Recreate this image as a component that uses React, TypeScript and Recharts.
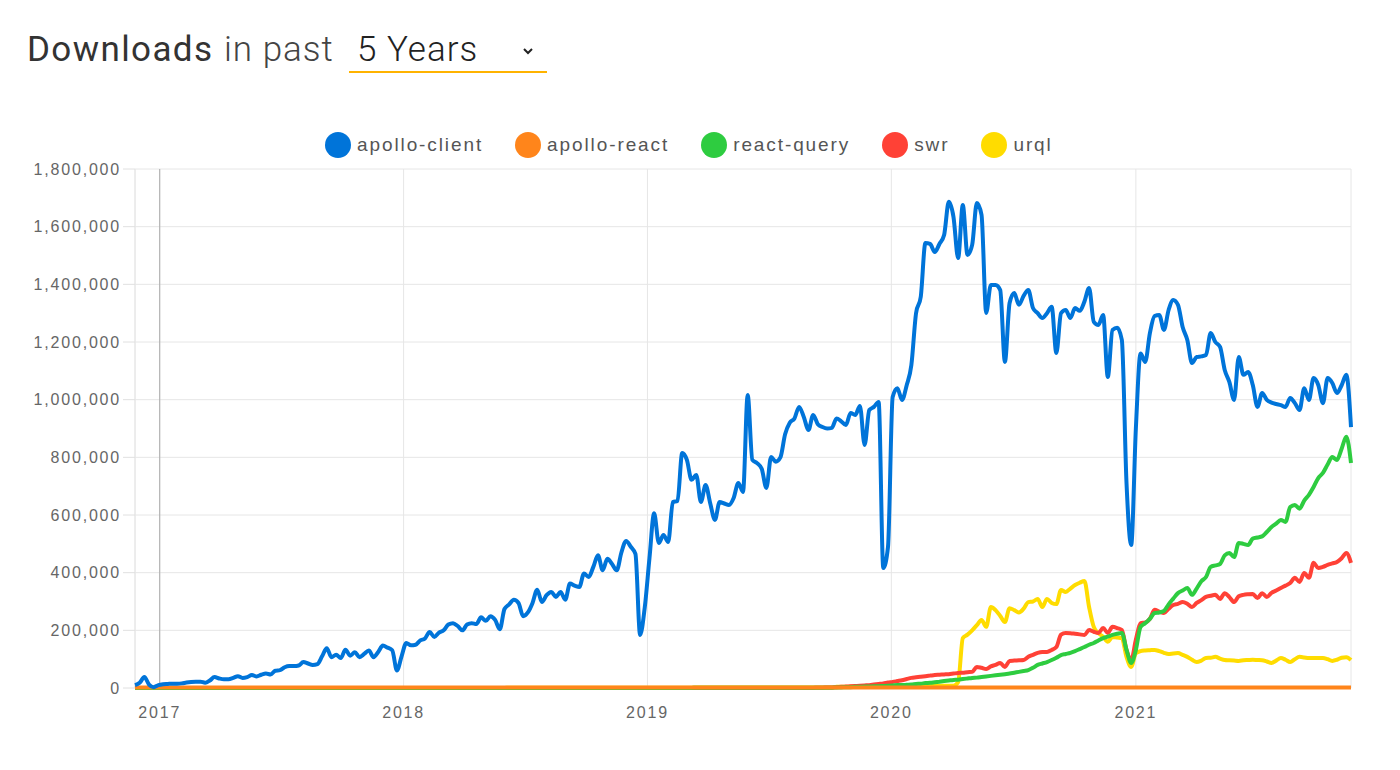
import React from 'react'
import { LineChart, Line, XAxis, YAxis, CartesianGrid, ReferenceLine, Legend } from 'recharts'

// weekly downloads in thousands, first week starts 2016-11-25
const START = Date.UTC(2016, 10, 25)
const WEEK = 7 * 24 * 3600 * 1000
const YEARS = [2017, 2018, 2019, 2020, 2021]
const Y_TICKS = [0, 200000, 400000, 600000, 800000, 1000000, 1200000, 1400000, 1600000, 1800000]

const apolloClient = [
  10, 18, 38, 12, 3, 10, 13, 14, 15, 15, 16, 19, 21, 22, 22, 18, 26, 38, 33, 30,
  30, 35, 41, 35, 38, 45, 40, 46, 50, 47, 60, 62, 72, 76, 76, 78, 90, 85, 80, 83,
  110, 138, 107, 115, 104, 133, 112, 124, 107, 118, 130, 107, 125, 147, 140, 131, 61, 110, 156, 148,
  150, 165, 172, 194, 177, 192, 200, 220, 225, 215, 200, 220, 225, 222, 245, 233, 249, 236, 204, 274,
  290, 306, 295, 249, 262, 295, 341, 298, 322, 333, 316, 333, 306, 362, 355, 350, 397, 385, 420, 460,
  408, 448, 430, 408, 470, 510, 490, 465, 184, 280, 450, 606, 503, 531, 506, 645, 649, 815, 791, 722,
  739, 645, 704, 640, 583, 645, 640, 635, 659, 711, 680, 1016, 791, 780, 760, 694, 801, 785, 800, 880,
  920, 935, 975, 940, 895, 947, 915, 905, 900, 902, 935, 925, 912, 954, 947, 978, 843, 964, 975, 992,
  416, 489, 1009, 1040, 999, 1050, 1120, 1300, 1356, 1543, 1540, 1512, 1540, 1571, 1686, 1634, 1491, 1675, 1502, 1537,
  1682, 1641, 1301, 1398, 1398, 1380, 1131, 1335, 1370, 1329, 1360, 1380, 1318, 1300, 1283, 1300, 1322, 1162, 1300, 1311,
  1283, 1318, 1308, 1340, 1387, 1270, 1259, 1294, 1079, 1242, 1249, 1207, 711, 496, 900, 1160, 1131, 1231, 1290, 1294,
  1242, 1311, 1346, 1329, 1252, 1207, 1127, 1148, 1150, 1155, 1231, 1200, 1183, 1103, 1061, 999, 1148, 1086, 1096, 1051,
  975, 1023, 999, 990, 985, 981, 975, 1006, 988, 964, 1040, 999, 1075, 1051, 988, 1075, 1058, 1023, 1050, 1086,
  905,
]

const apolloReact = [
  2, 2, 2, 2, 2, 2, 2, 2, 2, 2, 2, 2, 2, 2, 2, 2, 2, 2, 2, 2,
  2, 2, 2, 2, 2, 2, 2, 2, 2, 2, 2, 2, 2, 2, 2, 2, 2, 2, 2, 2,
  2, 2, 2, 2, 2, 2, 2, 2, 2, 2, 2, 2, 2, 2, 2, 2, 2, 2, 2, 2,
  2, 2, 2, 2, 2, 2, 2, 2, 2, 2, 2, 2, 2, 2, 2, 2, 2, 2, 2, 2,
  2, 2, 2, 2, 2, 2, 2, 2, 2, 2, 2, 2, 2, 2, 2, 2, 2, 2, 2, 2,
  2, 2, 2, 2, 2, 2, 2, 2, 2, 2, 2, 2, 2, 2, 2, 2, 2, 2, 2, 2,
  2, 2, 2, 2, 2, 2, 2, 2, 2, 2, 2, 2, 2, 2, 2, 2, 2, 2, 2, 2,
  2, 2, 2, 2, 2, 2, 2, 2, 2, 2, 2, 2, 2, 2, 2, 2, 2, 2, 2, 2,
  2, 2, 2, 2, 2, 2, 2, 2, 2, 2, 2, 2, 2, 2, 2, 2, 2, 2, 2, 2,
  2, 2, 2, 2, 2, 2, 2, 2, 2, 2, 2, 2, 2, 2, 2, 2, 2, 2, 2, 2,
  2, 2, 2, 2, 2, 2, 2, 2, 2, 2, 2, 2, 2, 2, 2, 2, 2, 2, 2, 2,
  2, 2, 2, 2, 2, 2, 2, 2, 2, 2, 2, 2, 2, 2, 2, 2, 2, 2, 2, 2,
  2, 2, 2, 2, 2, 2, 2, 2, 2, 2, 2, 2, 2, 2, 2, 2, 2, 2, 2, 2,
  2,
]

const reactQuery = [
  0, 0, 0, 0, 0, 0, 0, 0, 0, 0, 0, 0, 0, 0, 0, 0, 0, 0, 0, 0,
  0, 0, 0, 0, 0, 0, 0, 0, 0, 0, 0, 0, 0, 0, 0, 0, 0, 0, 0, 0,
  0, 0, 0, 0, 0, 0, 0, 0, 0, 0, 0, 0, 0, 0, 0, 0, 0, 0, 0, 0,
  0, 0, 0, 0, 0, 0, 0, 0, 0, 0, 0, 0, 0, 0, 0, 0, 0, 0, 0, 0,
  0, 0, 0, 0, 0, 0, 0, 0, 0, 0, 0, 0, 0, 0, 0, 0, 0, 0, 0, 0,
  0, 0, 0, 0, 0, 0, 0, 0, 0, 0, 0, 0, 0, 0, 0, 0, 0, 0, 0, 0,
  1, 1, 1, 1, 1, 1, 1, 1, 1, 1, 1, 1, 1, 1, 1, 1, 1, 1, 1, 1,
  1, 1, 1, 1, 1, 1, 1, 1, 1, 1, 2, 2, 3, 3, 4, 4, 5, 5, 6, 6,
  7, 8, 9, 10, 10, 11, 12, 14, 15, 17, 18, 20, 22, 24, 26, 28, 29, 31, 33, 35,
  36, 38, 40, 42, 44, 46, 48, 50, 53, 56, 59, 62, 70, 80, 85, 90, 97, 105, 114, 118,
  122, 128, 135, 142, 150, 156, 165, 173, 178, 184, 188, 191, 132, 87, 132, 212, 225, 240, 260, 262,
  267, 290, 310, 329, 338, 347, 323, 345, 370, 385, 420, 425, 430, 460, 468, 454, 503, 500, 496, 518,
  522, 526, 541, 558, 570, 583, 576, 628, 635, 622, 650, 670, 697, 728, 746, 775, 801, 791, 830, 871,
  780,
]

const swr = [
  0, 0, 0, 0, 0, 0, 0, 0, 0, 0, 0, 0, 0, 0, 0, 0, 0, 0, 0, 0,
  0, 0, 0, 0, 0, 0, 0, 0, 0, 0, 0, 0, 0, 0, 0, 0, 0, 0, 0, 0,
  0, 0, 0, 0, 0, 0, 0, 0, 0, 0, 0, 0, 0, 0, 0, 0, 0, 0, 0, 0,
  0, 0, 0, 0, 0, 0, 0, 0, 0, 0, 0, 0, 0, 0, 0, 0, 0, 0, 0, 0,
  0, 0, 0, 0, 0, 0, 0, 0, 0, 0, 0, 0, 0, 0, 0, 0, 0, 0, 0, 0,
  0, 0, 0, 0, 0, 0, 0, 0, 0, 0, 0, 0, 0, 0, 0, 0, 0, 0, 0, 0,
  0, 0, 0, 0, 0, 0, 0, 0, 0, 0, 0, 0, 0, 0, 0, 0, 0, 0, 0, 0,
  0, 0, 0, 0, 0, 0, 1, 1, 2, 2, 3, 4, 5, 6, 7, 8, 9, 10, 12, 14,
  16, 19, 21, 24, 27, 31, 35, 37, 39, 41, 43, 45, 46, 47, 48, 50, 52, 53, 55, 56,
  73, 70, 66, 75, 80, 87, 73, 94, 95, 96, 97, 108, 115, 122, 125, 125, 132, 142, 185, 191,
  190, 188, 186, 184, 201, 195, 191, 208, 191, 212, 208, 201, 132, 97, 167, 225, 227, 240, 271, 265,
  260, 275, 288, 292, 298, 292, 281, 295, 305, 316, 320, 323, 309, 329, 315, 298, 318, 323, 325, 326,
  312, 329, 316, 330, 338, 347, 355, 364, 382, 368, 399, 382, 434, 416, 420, 427, 432, 437, 450, 468,
  434,
]

const urql = [
  0, 0, 0, 0, 0, 0, 0, 0, 0, 0, 0, 0, 0, 0, 0, 0, 0, 0, 0, 0,
  0, 0, 0, 0, 0, 0, 0, 0, 0, 0, 0, 0, 0, 0, 0, 0, 0, 0, 0, 0,
  0, 0, 0, 0, 0, 0, 0, 0, 0, 0, 0, 0, 0, 0, 0, 0, 0, 0, 0, 0,
  0, 0, 0, 0, 0, 0, 0, 0, 0, 0, 0, 0, 0, 0, 0, 0, 0, 0, 0, 0,
  1, 1, 1, 1, 1, 1, 1, 1, 1, 1, 1, 1, 1, 1, 1, 1, 1, 1, 1, 1,
  1, 1, 1, 1, 1, 1, 1, 1, 1, 1, 1, 1, 1, 1, 1, 1, 1, 1, 1, 1,
  2, 2, 2, 2, 2, 2, 2, 2, 2, 2, 2, 2, 2, 2, 2, 2, 2, 2, 2, 2,
  2, 2, 2, 2, 2, 2, 2, 2, 2, 2, 4, 4, 4, 5, 5, 5, 5, 5, 5, 5,
  5, 6, 6, 6, 6, 6, 6, 6, 7, 7, 7, 7, 7, 8, 8, 8, 20, 173, 185, 200,
  218, 236, 212, 281, 270, 250, 229, 277, 270, 262, 275, 298, 300, 309, 281, 309, 295, 291, 340, 333,
  345, 357, 365, 371, 281, 212, 190, 178, 160, 177, 175, 173, 108, 73, 121, 128, 130, 131, 132, 128,
  122, 118, 120, 121, 115, 108, 98, 90, 95, 104, 105, 108, 102, 97, 96, 95, 94, 96, 97, 98,
  97, 96, 92, 87, 95, 104, 98, 90, 100, 108, 106, 104, 104, 104, 104, 100, 94, 98, 105, 107,
  97,
]

const SERIES = [
  { key: 'apollo-client', color: '#0074D9', values: apolloClient },
  { key: 'apollo-react', color: '#FF851B', values: apolloReact },
  { key: 'react-query', color: '#2ECC40', values: reactQuery },
  { key: 'swr', color: '#FF4136', values: swr },
  { key: 'urql', color: '#FFDC00', values: urql },
]

const data = apolloClient.map((_, i) => {
  const row: Record<string, number> = { t: START + i * WEEK }
  SERIES.forEach(s => { row[s.key] = s.values[i] * 1000 })
  return row
})

const yearTs = (y: number) => Date.UTC(y, 0, 1)
const LABEL_FONT = '"Liberation Sans", Arial, sans-serif'

function LegendRow() {
  return (
    <div style={{ display: 'flex', alignItems: 'center', height: 30 }}>
      {SERIES.map(s => (
        <div key={s.key} style={{ display: 'flex', alignItems: 'center', marginRight: 32 }}>
          <span style={{ width: 26, height: 26, borderRadius: '50%', background: s.color, display: 'inline-block', marginRight: 6 }} />
          <span style={{ fontFamily: LABEL_FONT, fontSize: 19, letterSpacing: 1.9, color: '#555' }}>{s.key}</span>
        </div>
      ))}
    </div>
  )
}

export default function App() {
  const titleFont = 'Roboto, "Noto Sans", sans-serif'
  return (
    <div style={{ position: 'relative', width: 1400, height: 770, background: '#fff' }}>
      <style>{'body{margin:0}'}</style>
      <div style={{ position: 'absolute', left: 27, top: 30, fontFamily: titleFont, fontSize: 35, lineHeight: '40px', fontWeight: 400, color: '#333', letterSpacing: 1.4 }}>Downloads</div>
      <div style={{ position: 'absolute', left: 224, top: 30, fontFamily: titleFont, fontSize: 35, lineHeight: '40px', fontWeight: 300, color: '#444', letterSpacing: 1 }}>in past</div>
      <div style={{ position: 'absolute', left: 349, top: 30, width: 198, height: 41, borderBottom: '2px solid #FFB300' }}>
        <span style={{ position: 'absolute', left: 8, top: 0, fontFamily: titleFont, fontSize: 35, lineHeight: '40px', fontWeight: 300, color: '#222', letterSpacing: 1 }}>5 Years</span>
        <svg style={{ position: 'absolute', left: 173, top: 16 }} width={12} height={10}>
          <polyline points="2,3 6,7 10,3" fill="none" stroke="#222" strokeWidth={2} />
        </svg>
      </div>
      <div style={{ position: 'absolute', left: 0, top: 0 }}>
        <LineChart width={1400} height={770} data={data} margin={{ top: 169, right: 49, bottom: 0, left: 0 }}>
          <CartesianGrid stroke="#e6e6e6" />
          <ReferenceLine x={START} stroke="#e6e6e6" />
          <ReferenceLine x={yearTs(2017)} stroke="#aaa" />
          <XAxis
            dataKey="t"
            type="number"
            domain={[START, START + (apolloClient.length - 1) * WEEK]}
            ticks={YEARS.map(yearTs)}
            tickFormatter={(t: number) => String(new Date(t).getUTCFullYear())}
            axisLine={false}
            tickLine={false}
            tickMargin={13}
            height={82}
            tick={{ fill: '#666', fontSize: 16, fontFamily: LABEL_FONT, letterSpacing: 1.8 }}
          />
          <YAxis
            type="number"
            domain={[0, 1800000]}
            ticks={Y_TICKS}
            tickFormatter={(v: number) => v.toLocaleString('en-US')}
            width={135}
            tickSize={12}
            axisLine={false}
            tickLine={{ stroke: '#e0e0e0' }}
            tick={{ fill: '#666', fontSize: 16, fontFamily: LABEL_FONT, letterSpacing: 1.8 }}
          />
          <Legend verticalAlign="middle" align="center" wrapperStyle={{ top: 130, left: 325, width: 900 }} content={() => <LegendRow />} />
          {[...SERIES].reverse().map(s => (
            <Line key={s.key} dataKey={s.key} name={s.key} type="monotone" stroke={s.color} strokeWidth={4} dot={false} activeDot={false} isAnimationActive={false} />
          ))}
        </LineChart>
      </div>
    </div>
  )
}
